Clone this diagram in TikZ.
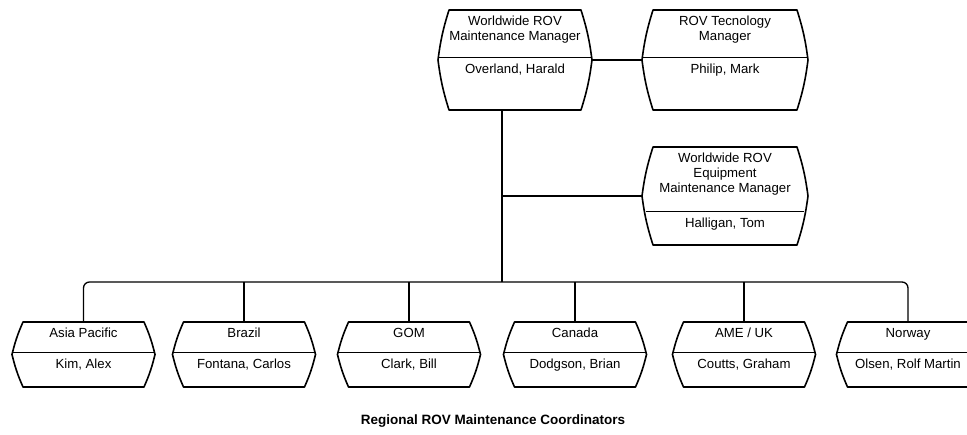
\documentclass[tikz,border=0pt]{standalone}
\usepackage{fontspec}
\setmainfont{Liberation Sans}
\usetikzlibrary{calc}

\tikzset{
  unitline/.style={line width=1.6pt, line join=round},
  dividerline/.style={line width=1pt},
  link/.style={line width=1.3pt},
  unitanchor/.style={draw=none, inner sep=0pt, outer sep=0pt, rectangle},
  titletext/.style={anchor=north, align=center, inner sep=0pt,
    font=\fontsize{13.2}{15}\selectfont},
  persontext/.style={anchor=north, align=center, inner sep=0pt,
    font=\fontsize{13.2}{15}\selectfont},
  captiontext/.style={inner sep=0pt, font=\bfseries\fontsize{13.5}{15}\selectfont},
}

% #1 name, #2 centre x, #3 top y, #4 bottom y, #5 half width,
% #6 divider y, #7 role, #8 person
\newcommand\orgunit[8]{%
  \pgfmathsetmacro\ouL{#2-#5}%
  \pgfmathsetmacro\ouR{#2+#5}%
  \pgfmathsetmacro\ouM{(#3+#4)/2}%
  \pgfmathsetmacro\ouD{11*abs(#6-\ouM)/((#4-#3)/2)}%
  \node[unitanchor, minimum width={2*#5pt}, minimum height={(#4-#3)*1pt}] (#1) at (#2,\ouM) {};
  \draw[unitline] (\ouL+11,#3) -- (\ouR-11,#3) to[bend left=5] (\ouR,\ouM)
    to[bend left=5] (\ouR-11,#4) -- (\ouL+11,#4) to[bend left=5] (\ouL,\ouM)
    to[bend left=5] (\ouL+11,#3) -- cycle;
  \draw[dividerline] (\ouL+\ouD,#6) -- (\ouR-\ouD,#6);
  \node[titletext] (#1-role) at (#2,#3+6) {#7};
  \node[persontext] (#1-person) at (#2,#6+6) {#8};
}

\begin{document}
\begin{tikzpicture}[x=1pt, y=-1pt]
  \clip (0,0) rectangle (967,435);
  \fill[white] (0,0) rectangle (967,435);

  % management
  \orgunit{wwm}{515}{10}{110}{77}{58}{Worldwide ROV\\Maintenance Manager}{Overland, Harald}
  \orgunit{tech}{725}{10}{110}{83}{58}{ROV Tecnology\\Manager}{Philip, Mark}
  \orgunit{equip}{725}{147}{245}{83}{212}{Worldwide ROV\\Equipment\\Maintenance Manager}{Halligan, Tom}

  % regional coordinators
  \orgunit{asia}{83.5}{322}{387}{71.5}{353}{Asia Pacific}{Kim, Alex}
  \orgunit{brazil}{244}{322}{387}{71.5}{353}{Brazil}{Fontana, Carlos}
  \orgunit{gom}{409}{322}{387}{71.5}{353}{GOM}{Clark, Bill}
  \orgunit{canada}{575}{322}{387}{71.5}{353}{Canada}{Dodgson, Brian}
  \orgunit{ameuk}{744}{322}{387}{71.5}{353}{AME / UK}{Coutts, Graham}
  \orgunit{norway}{908}{322}{387}{71.5}{353}{Norway}{Olsen, Rolf Martin}

  % reporting lines
  \coordinate (hub) at (502,282);
  \draw[link] (wwm.east) -- (tech.west);
  \draw[link] (wwm.south -| hub) -- (hub);
  \draw[link] (equip.west -| hub) -- (equip.west);
  \draw[link, rounded corners=6pt] (asia.north) |- (hub) -| (norway.north);
  \foreach \u in {brazil, gom, canada, ameuk}
    \draw[link] (hub -| \u.north) -- (\u.north);

  \node[captiontext] (caption) at (493,421) {Regional ROV Maintenance Coordinators};
\end{tikzpicture}
\end{document}
